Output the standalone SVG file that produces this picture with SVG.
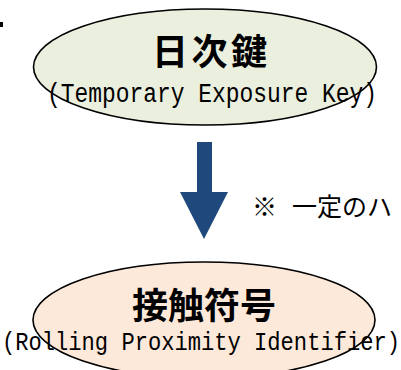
<svg xmlns="http://www.w3.org/2000/svg" width="401" height="370" viewBox="0 0 401 370">
  <style>
    .node { stroke: #000000; stroke-width: 1.6; }
    .title { font-family: "Noto Sans CJK JP", sans-serif; font-weight: bold; font-size: 36px; fill: #000000; }
    .sub { font-family: "Liberation Mono", "DejaVu Sans Mono", monospace; fill: #000000; }
    .note { font-family: "Noto Sans CJK JP", sans-serif; font-size: 25px; fill: #000000; }
  </style>
  <rect x="0" y="0" width="401" height="370" fill="#ffffff"/>
  <rect x="0" y="22" width="3" height="5" fill="#000000"/>
  <g id="node-tek">
    <ellipse class="node" cx="205" cy="67" rx="171.5" ry="58" fill="#EBEFDD"/>
    <text class="title" x="152" y="64.5" letter-spacing="3.5">日次鍵</text>
    <text class="sub" x="47" y="101.5" font-size="27" textLength="330" lengthAdjust="spacingAndGlyphs">(Temporary Exposure Key)</text>
  </g>
  <g id="connectors">
    <polygon points="197,142 212,142 212,192 228,192 204,239 180,192 197,192" fill="#1F497D"/>
  </g>
  <g id="note">
    <text class="note" x="252" y="216">※</text>
    <text class="note" x="292" y="216">一定のハ</text>
  </g>
  <g id="node-rpi">
    <ellipse class="node" cx="204" cy="320" rx="171" ry="58" fill="#FDE9DA"/>
    <text class="title" x="132" y="319">接触符号</text>
    <text class="sub" x="2" y="350" font-size="25" textLength="398" lengthAdjust="spacingAndGlyphs">(Rolling Proximity Identifier)</text>
  </g>
</svg>
